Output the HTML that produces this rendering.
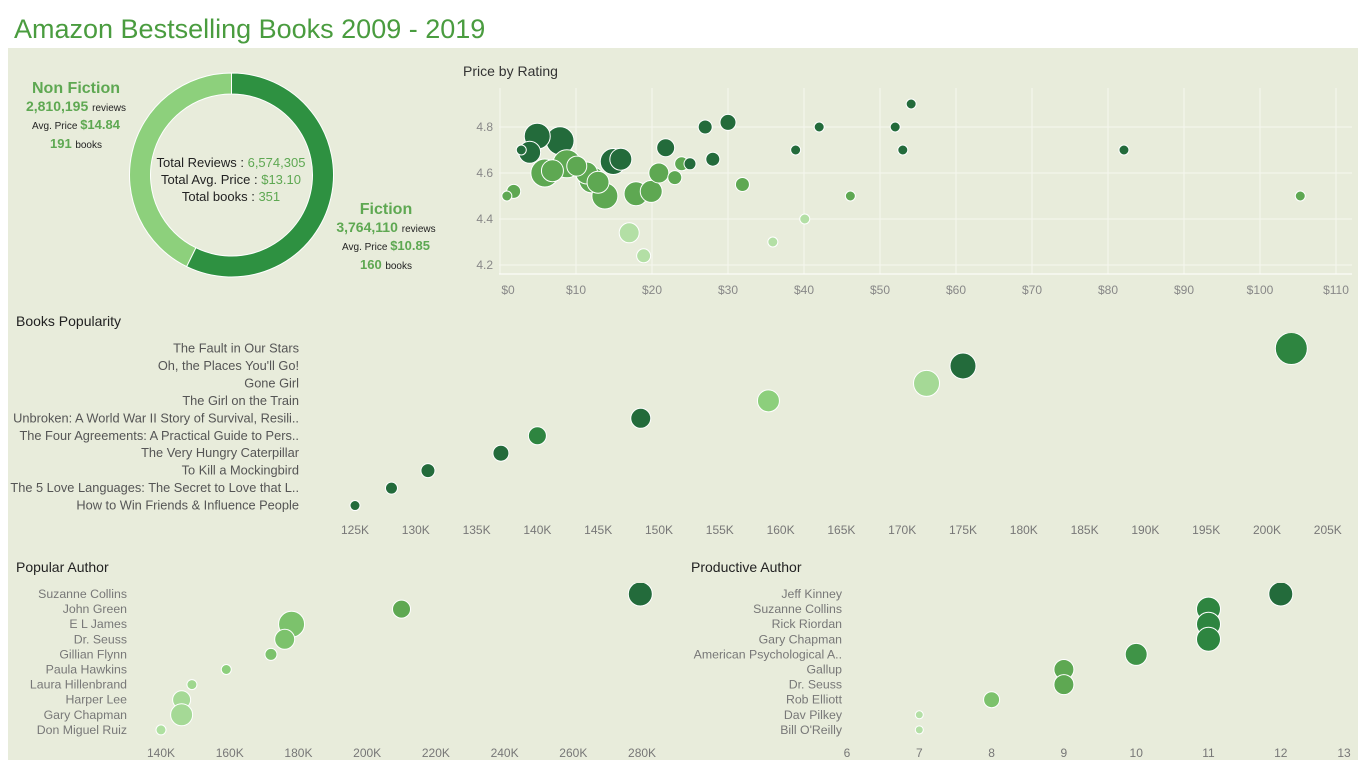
<!DOCTYPE html>
<html><head><meta charset="utf-8"><style>
body{margin:0;background:#fff;font-family:"Liberation Sans",sans-serif}
svg text{font-family:"Liberation Sans",sans-serif}
</style></head><body>
<svg id="s" width="1365" height="767">
<text x="14" y="38" font-size="27" fill="#4a9c3f">Amazon Bestselling Books 2009 - 2019</text>
<rect x="8" y="48" width="1350" height="712" fill="#e8ecdb"/>
<g id="donut"></g>
<g font-size="13" text-anchor="middle">
<text x="231" y="167" fill="#222">Total Reviews : <tspan fill="#5ea852">6,574,305</tspan></text>
<text x="231" y="184" fill="#222">Total Avg. Price : <tspan fill="#5ea852">$13.10</tspan></text>
<text x="231" y="201" fill="#222">Total books : <tspan fill="#5ea852">351</tspan></text>
</g>
<g text-anchor="middle">
<text x="76" y="93" font-size="16" font-weight="bold" fill="#5ea852">Non Fiction</text>
<text x="76" y="111" fill="#5ea852" font-size="14" font-weight="bold">2,810,195 <tspan font-size="10" font-weight="normal" fill="#222">reviews</tspan></text>
<text x="76" y="129" fill="#222" font-size="10">Avg. Price <tspan fill="#5ea852" font-size="13" font-weight="bold">$14.84</tspan></text>
<text x="76" y="148" fill="#5ea852" font-size="13" font-weight="bold">191 <tspan font-size="10" font-weight="normal" fill="#222">books</tspan></text>
</g>
<g text-anchor="middle">
<text x="386" y="214" font-size="16" font-weight="bold" fill="#5ea852">Fiction</text>
<text x="386" y="232" fill="#5ea852" font-size="14" font-weight="bold">3,764,110 <tspan font-size="10" font-weight="normal" fill="#222">reviews</tspan></text>
<text x="386" y="250" fill="#222" font-size="10">Avg. Price <tspan fill="#5ea852" font-size="13" font-weight="bold">$10.85</tspan></text>
<text x="386" y="269" fill="#5ea852" font-size="13" font-weight="bold">160 <tspan font-size="10" font-weight="normal" fill="#222">books</tspan></text>
</g>
<text x="463" y="76" font-size="14" fill="#333">Price by Rating</text>
<g id="scatter"></g>
<text x="16" y="326" font-size="14" fill="#222">Books Popularity</text>
<g id="pop"></g>
<text x="16" y="572" font-size="14" fill="#222">Popular Author</text>
<g id="pa"></g>
<text x="691" y="572" font-size="14" fill="#222">Productive Author</text>
<g id="pr"></g>
<defs>
<clipPath id="c1"><rect x="340" y="333" width="1018" height="185"/></clipPath>
<clipPath id="c2"><rect x="130" y="583" width="540" height="160"/></clipPath>
<clipPath id="c3"><rect x="830" y="583" width="520" height="160"/></clipPath>
</defs>
</svg>
<script>
// donut data
const genreNames=["Fiction","Non Fiction"];
const genreReviews=[3764110,2810195];
// scatter data
const priceVals=[4.9,2.8,3.9,7.9,15.9,14.9,21.8,25,27,30,28,38.9,42,52,54.1,53,82.1,0.9,1.8,5.9,6.9,8.8,10.1,11.4,12.1,12.9,13.8,17.9,19.9,20.9,23,23.9,31.9,46.1,105.3,17,18.9,35.9,40.1];
const ratingVals=[4.76,4.7,4.69,4.74,4.66,4.65,4.71,4.64,4.8,4.82,4.66,4.7,4.8,4.8,4.9,4.7,4.7,4.5,4.52,4.6,4.61,4.64,4.63,4.6,4.57,4.56,4.5,4.51,4.52,4.6,4.58,4.64,4.55,4.5,4.5,4.34,4.24,4.3,4.4];
const sizeVals=[13,5,11,14,11,13,9,6,7,8,7,5,5,5,5,5,5,5,7,14,11,14,10,11,13,11,13,12,11,10,7,7,7,5,5,10,7,5,5];
const groupVals=[0,0,0,0,0,0,0,0,0,0,0,0,0,0,0,0,0,1,1,1,1,1,1,1,1,1,1,1,1,1,1,1,1,1,1,2,2,2,2];
const priceTicks=[0,10,20,30,40,50,60,70,80,90,100,110];
const ratingTicks=[4.2,4.4,4.6,4.8];
// popularity data
const bookNames=["The Fault in Our Stars","Oh, the Places You'll Go!","Gone Girl","The Girl on the Train","Unbroken: A World War II Story of Survival, Resili..","The Four Agreements: A Practical Guide to Pers..","The Very Hungry Caterpillar","To Kill a Mockingbird","The 5 Love Languages: The Secret to Love that L..","How to Win Friends & Influence People"];
const bookReviews=[202,175,172,159,148.5,140,137,131,128,125];
const bookSizes=[16,13,13,11,10,9,8,7,6,5];
const bookColors=["#2e8540","#236b3b","#a5d996","#8ccf7c","#236b3b","#2e8540","#236b3b","#236b3b","#236b3b","#236b3b"];
const bookTicks=[125,130,135,140,145,150,155,160,165,170,175,180,185,190,195,200,205];
// popular author
const authorNames=["Suzanne Collins","John Green","E L James","Dr. Seuss","Gillian Flynn","Paula Hawkins","Laura Hillenbrand","Harper Lee","Gary Chapman","Don Miguel Ruiz"];
const authorReviews=[279.5,210,178,176,172,159,149,146,146,140];
const authorSizes=[12,9,13,10,6,5,5,9,11,5];
const authorColors=["#236b3b","#5ea852","#7cc26c","#7cc26c","#7cc26c","#8ccf7c","#9fd78f","#a5d996","#a5d996","#aee0a0"];
const authorTicks=[140,160,180,200,220,240,260,280];
// productive author
const prodNames=["Jeff Kinney","Suzanne Collins","Rick Riordan","Gary Chapman","American Psychological A..","Gallup","Dr. Seuss","Rob Elliott","Dav Pilkey","Bill O'Reilly"];
const prodCounts=[12,11,11,11,10,9,9,8,7,7];
const prodSizes=[12,12,12,12,11,10,10,8,4,4];
const prodColors=["#236b3b","#2e8540","#2e8540","#2e8540","#3f9447","#5ea852","#5ea852","#7cc26c","#b3dfa5","#b3dfa5"];
const prodTicks=[6,7,8,9,10,11,12,13];

const NS="http://www.w3.org/2000/svg";
function mk(p,t,a){const e=document.createElementNS(NS,t);for(const k in a)e.setAttribute(k,a[k]);p.appendChild(e);return e;}
// donut
(function(){
const g=document.getElementById('donut');const cx=231.5,cy=175,R=102,r=81;
const tot=genreReviews.reduce((a,b)=>a+b,0);const cols=["#2e9141","#8dd07c"];let a0=0;
genreReviews.forEach((v,i)=>{const a1=a0+v/tot*2*Math.PI;
const pt=(rad,a)=>[cx+rad*Math.sin(a),cy-rad*Math.cos(a)];
const [x1,y1]=pt(R,a0),[x2,y2]=pt(R,a1),[x3,y3]=pt(r,a1),[x4,y4]=pt(r,a0);const lg=(a1-a0)>Math.PI?1:0;
const p=mk(g,'path',{d:`M${x1},${y1}A${R},${R} 0 ${lg} 1 ${x2},${y2}L${x3},${y3}A${r},${r} 0 ${lg} 0 ${x4},${y4}Z`,fill:cols[i],stroke:'#fff','stroke-width':1});


a0=a1;});
})();
// scatter
(function(){
const g=document.getElementById('scatter');
const X=v=>500+v*7.6, Y=v=>127-(v-4.8)*230;
priceTicks.forEach(t=>{mk(g,'line',{x1:X(t),x2:X(t),y1:88,y2:274,stroke:'#f6f7ef','stroke-width':1});
const tx=mk(g,'text',{x:t===0?X(t)+8:X(t),y:294,'font-size':12,fill:'#888','text-anchor':'middle'});tx.textContent='$'+t;

});
ratingTicks.forEach(t=>{mk(g,'line',{x1:499,x2:1352,y1:Y(t),y2:Y(t),stroke:'#f6f7ef','stroke-width':1});
const tx=mk(g,'text',{x:493,y:Y(t)+4,'font-size':12,fill:'#888','text-anchor':'end'});tx.textContent=t.toFixed(1);

});
mk(g,'line',{x1:499,x2:1352,y1:274,y2:274,stroke:'#fff'});
const cols=["#236b3b","#5ea852","#b3dfa5"];
const idx=priceVals.map((_,i)=>i).sort((a,b)=>sizeVals[b]-sizeVals[a]);
idx.forEach(i=>{const c=mk(g,'circle',{cx:X(priceVals[i]),cy:Y(ratingVals[i]),r:sizeVals[i],fill:cols[groupVals[i]],stroke:'#fff','stroke-width':1});

});
})();
function dotChart(id,names,vals,sizes,colors,ticks,X,y0,step,labelX,tickY,fmt,clip,fs,lc,maxLabelX){
const g=document.getElementById(id);
names.forEach((n,i)=>{const t=mk(g,'text',{x:labelX,y:y0+i*step+4,'font-size':fs,fill:lc,'text-anchor':'end'});t.textContent=n;

});
ticks.forEach(t=>{const tx=mk(g,'text',{x:Math.min(X(t),maxLabelX),y:tickY,'font-size':12,fill:'#777','text-anchor':'middle'});tx.textContent=fmt(t);

});
const cg=mk(g,'g',{'clip-path':'url(#'+clip+')'});
vals.forEach((v,i)=>{const c=mk(cg,'circle',{cx:X(v),cy:y0+i*step,r:sizes[i],fill:colors[i],stroke:'#fff','stroke-width':1});

});
}
dotChart('pop',bookNames,bookReviews,bookSizes,bookColors,bookTicks,v=>355+(v-125)*12.16,348.5,17.45,299,534,t=>t+'K','c1',12.8,'#555',1330);
dotChart('pa',authorNames,authorReviews,authorSizes,authorColors,authorTicks,v=>161+(v-140)*3.436,594,15.1,127,757,t=>t+'K','c2',12.3,'#777',700);
dotChart('pr',prodNames,prodCounts,prodSizes,prodColors,prodTicks,v=>847+(v-6)*72.3,594,15.1,842,757,t=>t,'c3',12.3,'#777',1344);
</script>
</body></html>
